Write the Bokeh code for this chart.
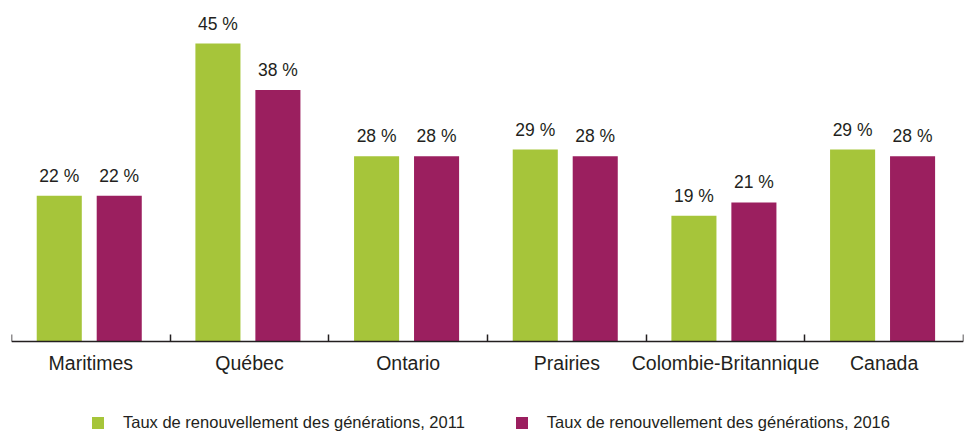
from bokeh.plotting import figure
from bokeh.models import ColumnDataSource, FixedTicker, Legend, LegendItem, Range1d, LabelSet
from bokeh.core.properties import value
from bokeh.embed import file_html
from bokeh.resources import INLINE

categories = ["Maritimes", "Québec", "Ontario", "Prairies", "Colombie-Britannique", "Canada"]
rate_2011 = [22, 45, 28, 29, 19, 29]
rate_2016 = [22, 38, 28, 28, 21, 28]
series_names = ["Taux de renouvellement des générations, 2011",
                "Taux de renouvellement des générations, 2016"]
colors = ["#a6c53a", "#9b1f5f"]

n = len(categories)
centers = list(range(n))
shift = -0.01
off = 0.189
bw = 0.284
src = ColumnDataSource(dict(
    x1=[c + shift - off for c in centers], x2=[c + shift + off for c in centers],
    y1=rate_2011, y2=rate_2016,
    l1=[f"{v} %" for v in rate_2011], l2=[f"{v} %" for v in rate_2016],
))

p = figure(width=966, height=434, x_range=Range1d(-0.5, n - 0.5), y_range=Range1d(-14.05, 50.3),
           output_backend="svg", toolbar_location=None,
           min_border_left=11, min_border_right=3, min_border_top=8, min_border_bottom=0)
p.outline_line_color = None
p.xgrid.visible = False
p.ygrid.visible = False
p.yaxis.visible = False

r1 = p.vbar(x="x1", top="y1", width=bw, source=src, fill_color=colors[0], line_color=None)
r2 = p.vbar(x="x2", top="y2", width=bw, source=src, fill_color=colors[1], line_color=None)

label_font = "Liberation Sans"
for xs, ys, ls in (("x1", "y1", "l1"), ("x2", "y2", "l2")):
    p.add_layout(LabelSet(x=xs, y=ys, text=ls, source=src, y_offset=14,
                          text_align="center", text_baseline="alphabetic",
                          text_font=value(label_font), text_font_size="17.5px",
                          text_color="#231f20"))

ax = p.xaxis[0]
ax.fixed_location = 0
ax.ticker = FixedTicker(ticks=centers, minor_ticks=[c - 0.5 for c in centers] + [n - 0.5])
ax.major_label_overrides = {c: name for c, name in zip(centers, categories)}
ax.axis_line_color = "#231f20"
ax.axis_line_width = 1.5
ax.major_tick_line_color = None
ax.minor_tick_line_color = "#231f20"
ax.minor_tick_line_width = 1.5
ax.minor_tick_in = 7
ax.minor_tick_out = 0
ax.major_label_standoff = 5
ax.major_label_text_font = label_font
ax.major_label_text_font_size = "19.5px"
ax.major_label_text_color = "#231f20"

legend = Legend(items=[LegendItem(label=series_names[0], renderers=[r1]),
                       LegendItem(label=series_names[1], renderers=[r2])],
                orientation="horizontal", location=(79, 2),
                glyph_width=15, glyph_height=15, label_standoff=18, spacing=49,
                padding=0, margin=0, border_line_color=None, background_fill_alpha=0,
                label_text_font=label_font, label_text_font_size="16.5px",
                label_text_color="#231f20", label_height=15)
p.add_layout(legend, "center")

open("out.html", "w").write(file_html(p, INLINE))
